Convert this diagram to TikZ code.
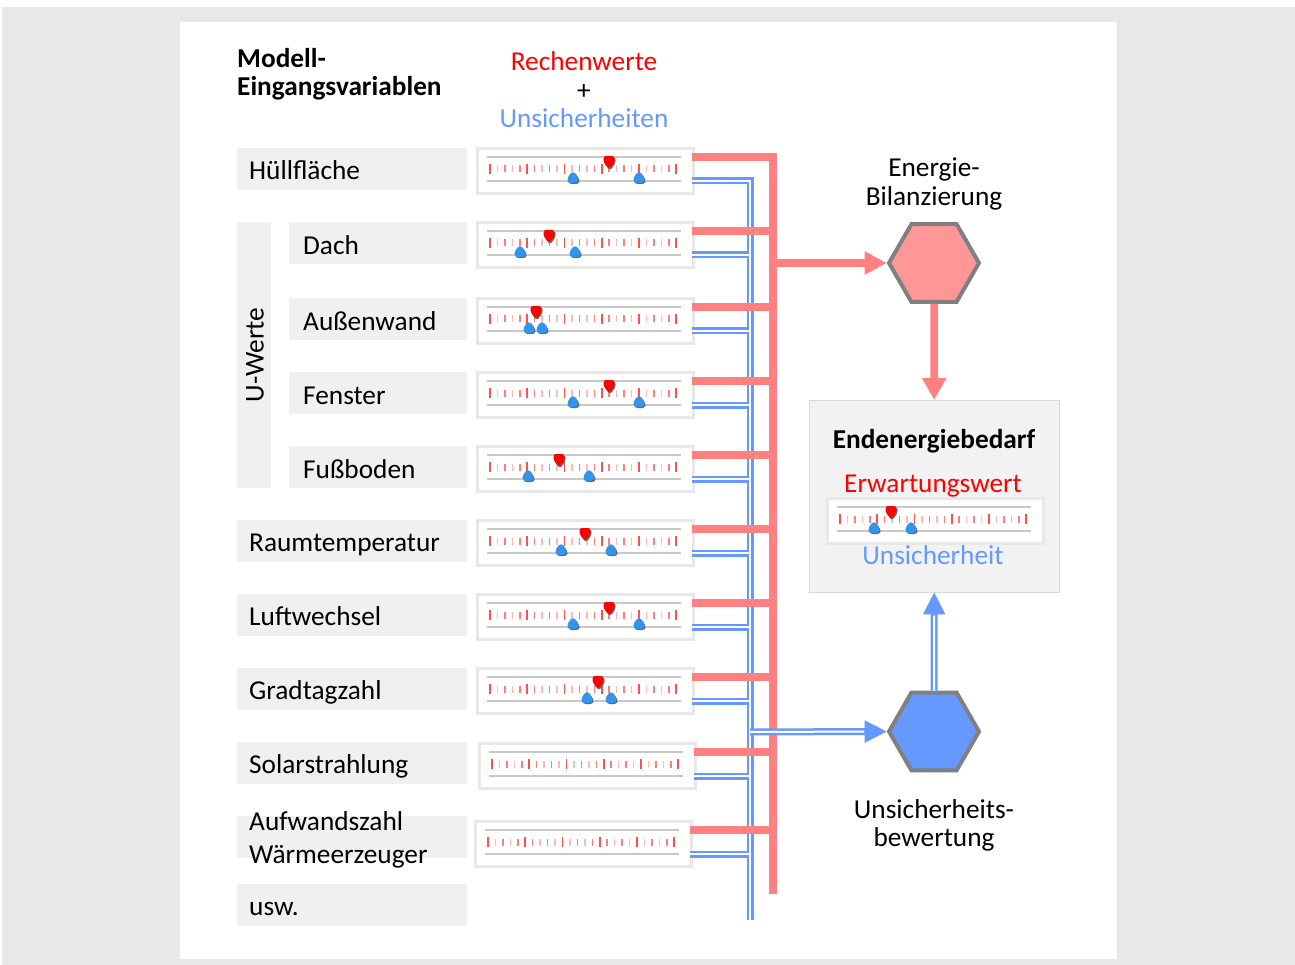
\documentclass[tikz,border=0pt]{standalone}
\usepackage{fontspec}
\setmainfont{Carlito}
\usetikzlibrary{arrows.meta,shapes.geometric}
\definecolor{bggray}{HTML}{E8E8E8}
\definecolor{lgray}{HTML}{F0F0F0}
\definecolor{redln}{HTML}{FF8080}
\definecolor{hexred}{HTML}{FF9797}
\definecolor{ublue}{HTML}{6699FF}
\definecolor{mblue}{RGB}{50,148,235}
\definecolor{sframe}{HTML}{E8E8E8}
\definecolor{slinecol}{HTML}{C8C8C8}
\definecolor{tickA}{RGB}{255,80,80}
\definecolor{tickB}{RGB}{255,125,125}
\definecolor{tickC}{RGB}{255,185,185}
\definecolor{hexgray}{HTML}{808080}
\definecolor{boxgray}{HTML}{F2F2F2}
\definecolor{boxline}{HTML}{D9D9D9}
\newcommand\fs{\fontsize{27.3}{28.5}\selectfont}
\newcommand\mkslider[3]{%
  \node[sbox] (#1) at (#2,#3) {};
  \coordinate (#1-r) at (#2+216,#3+10);
  \coordinate (#1-b) at (#2+216,#3+34);
  \draw[sgl] (#2+11,#3+10) -- (#2+205,#3+10);
  \draw[sgl] (#2+11,#3+34) -- (#2+205,#3+34);
  \foreach \i in {1,3,...,23} {\draw[tickC, line width=1.5pt] (#2+14+7.45*\i,#3+18.5) -- ++(0,7);}
  \foreach \i in {2,4,...,24} {\draw[tickB, line width=1.5pt] (#2+14+7.45*\i,#3+18.5) -- ++(0,7);}
  \foreach \i in {0,5,...,25} {\draw[tickA, line width=1.8pt] (#2+14+7.45*\i,#3+17) -- ++(0,10);}
}
\newcommand\redmk[2]{%
  \fill[black!60, rounded corners=2.5pt] (#1-4.5,#2+10.5) -- (#1+6.5,#2+10.5) -- (#1+6.5,#2+16.5) -- (#1+1,#2+23.5) -- (#1-4.5,#2+16.5) -- cycle;
  \fill[red, rounded corners=2.5pt] (#1-5.5,#2+9) -- (#1+5.5,#2+9) -- (#1+5.5,#2+15) -- (#1,#2+22) -- (#1-5.5,#2+15) -- cycle;
}
\newcommand\bluemk[2]{%
  \fill[black!60, rounded corners=3pt] (#1+1,#2+25.5) -- (#1+6.5,#2+31.5) -- (#1+6.5,#2+37) -- (#1-4.5,#2+37) -- (#1-4.5,#2+31.5) -- cycle;
  \fill[mblue, rounded corners=3pt] (#1,#2+24) -- (#1+5.5,#2+30) -- (#1+5.5,#2+36) -- (#1-5.5,#2+36) -- (#1-5.5,#2+30) -- cycle;
}
\begin{document}
\begin{tikzpicture}[x=1pt,y=-1pt,
  sbox/.style={rectangle, anchor=north west, minimum width=216pt, minimum height=45pt, fill=white, draw=sframe, line width=3pt, inner sep=0pt},
  sgl/.style={draw=slinecol, line width=2pt},
  redline/.style={draw=redln, line width=8pt},
  blueline/.style={draw=ublue, double=white, double distance=2pt, line width=2.5pt},
  hexa/.style={regular polygon, regular polygon sides=6, minimum size=90pt, inner sep=0pt, draw=hexgray, line width=4pt},
  lbl/.style={fill=lgray, anchor=north west, minimum height=42pt, inner ysep=0pt, inner xsep=12pt, text width=206pt, text height=23pt, text depth=3pt, align=left, font=\fs},
  sublbl/.style={lbl, inner xsep=14pt, text width=150pt, text height=24pt, text depth=2pt},
  txt/.style={font=\fs, align=center, inner sep=0pt}
]
\useasboundingbox (0,0) rectangle (1295,965);
\fill[white] (0,0) rectangle (1295,965);
\fill[bggray] (2,7) rectangle (1295,965);
\fill[white] (180,22) rectangle (1117,959);

% headers
\node[font=\fs\bfseries, align=left, anchor=west, inner sep=0pt] (hdr) at (237,74) {Modell-\\Eingangsvariablen};
\node[txt] (rw) at (584,90) {\textcolor{red}{Rechenwerte}\\+\\\textcolor{ublue}{Unsicherheiten}};

% labels
\node[lbl] (l1) at (237,148) {Hüllfläche};
\node[fill=lgray, anchor=north west, minimum width=34pt, minimum height=266pt, inner sep=0pt] (uwbox) at (237,222) {};
\node[font=\fs, rotate=90, inner sep=0pt] (uw) at (255,355) {U-Werte};
\node[sublbl] (l2) at (289,222) {Dach};
\node[sublbl] (l3) at (289,298) {Außenwand};
\node[sublbl] (l4) at (289,372) {Fenster};
\node[sublbl] (l5) at (289,446) {Fußboden};
\node[lbl] (l6) at (237,520) {Raumtemperatur};
\node[lbl] (l7) at (237,594) {Luftwechsel};
\node[lbl] (l8) at (237,668) {Gradtagzahl};
\node[lbl] (l9) at (237,742) {Solarstrahlung};
\node[lbl] (l10) at (237,816) {};
\node[font=\fontsize{27.3}{33}\selectfont, align=left, anchor=west, inner sep=0pt] (t10) at (249,840) {Aufwandszahl\\Wärmeerzeuger};
\node[lbl] (l11) at (237,884) {usw.};

% sliders
\mkslider{s1}{476}{147}
\mkslider{s2}{476}{221}
\mkslider{s3}{476}{297}
\mkslider{s4}{476}{371}
\mkslider{s5}{476}{445}
\mkslider{s6}{476}{519}
\mkslider{s7}{476}{593}
\mkslider{s8}{476}{667}
\mkslider{s9}{478}{742}
\mkslider{s10}{474}{820}
\redmk{609}{147}\bluemk{573}{147}\bluemk{639}{147}
\redmk{549}{221}\bluemk{520}{221}\bluemk{575}{221}
\bluemk{529}{297}\bluemk{542}{297}\redmk{536}{297}
\redmk{609}{371}\bluemk{573}{371}\bluemk{639}{371}
\redmk{559}{445}\bluemk{528}{445}\bluemk{589}{445}
\redmk{585}{519}\bluemk{561}{519}\bluemk{611}{519}
\redmk{609}{593}\bluemk{573}{593}\bluemk{639}{593}
\redmk{598}{667}\bluemk{587}{667}\bluemk{611}{667}

% bus coordinates
\coordinate (bbot) at (750,920);
\coordinate (rbot) at (773,894);
\coordinate (rj) at (773,263);
\coordinate (bj) at (750,732);

% blue network
\draw[blueline] (s1-b) -| (bbot)
  (s2-b) -- (s2-b -| bbot)
  (s3-b) -- (s3-b -| bbot)
  (s4-b) -- (s4-b -| bbot)
  (s5-b) -- (s5-b -| bbot)
  (s6-b) -- (s6-b -| bbot)
  (s7-b) -- (s7-b -| bbot)
  (s8-b) -- (s8-b -| bbot)
  (s9-b) -- (s9-b -| bbot)
  (s10-b) -- (s10-b -| bbot);

% red network
\draw[redline] (s1-r) -| (rbot)
  (s2-r) -- (s2-r -| rbot)
  (s3-r) -- (s3-r -| rbot)
  (s4-r) -- (s4-r -| rbot)
  (s5-r) -- (s5-r -| rbot)
  (s6-r) -- (s6-r -| rbot)
  (s7-r) -- (s7-r -| rbot)
  (s8-r) -- (s8-r -| rbot)
  (s9-r) -- (s9-r -| rbot)
  (s10-r) -- (s10-r -| rbot);

% hexagons
\node[hexa, fill=hexred] (hexR) at (934,263) {};
\node[hexa, fill=ublue] (hexB) at (934,731.5) {};
\node[txt] (ebl) at (934,184) {Energie-\\Bilanzierung};
\node[txt] (ubw) at (934,825.5) {Unsicherheits-\\bewertung};

% result box
\node[draw=boxline, fill=boxgray, minimum width=250pt, minimum height=192pt, anchor=north west, inner sep=0pt] (endbox) at (809,400) {};
\node[font=\fs\bfseries, inner sep=0pt] (eb) at (934,441) {Endenergiebedarf};
\node[font=\fs, text=red, inner sep=0pt] (ew) at (933,486.5) {Erwartungswert};
\mkslider{sres}{826}{497}
\redmk{891}{497}\bluemk{874}{497}\bluemk{911}{497}
\node[font=\fs, text=ublue, inner sep=0pt] (eu) at (933,555.5) {Unsicherheit};

% arrows
\draw[redline, -{Triangle[length=22pt,width=22pt]}] (rj) -- (hexR.west);
\draw[redline, line width=7.5pt, -{Triangle[length=22pt,width=23pt]}] (hexR.south) -- (endbox.north);
\draw[blueline] (bj) -- ([xshift=-12pt]hexB.west);
\draw[ublue, line width=2pt, -{Triangle[length=22pt,width=22pt]}, shorten <=114pt] (bj) -- (hexB.west);
\draw[blueline] (hexB.north) -- ([yshift=-12pt]endbox.south);
\draw[ublue, line width=2pt, -{Triangle[length=22pt,width=22pt]}, shorten <=75pt] (hexB.north) -- (endbox.south);
\end{tikzpicture}
\end{document}
